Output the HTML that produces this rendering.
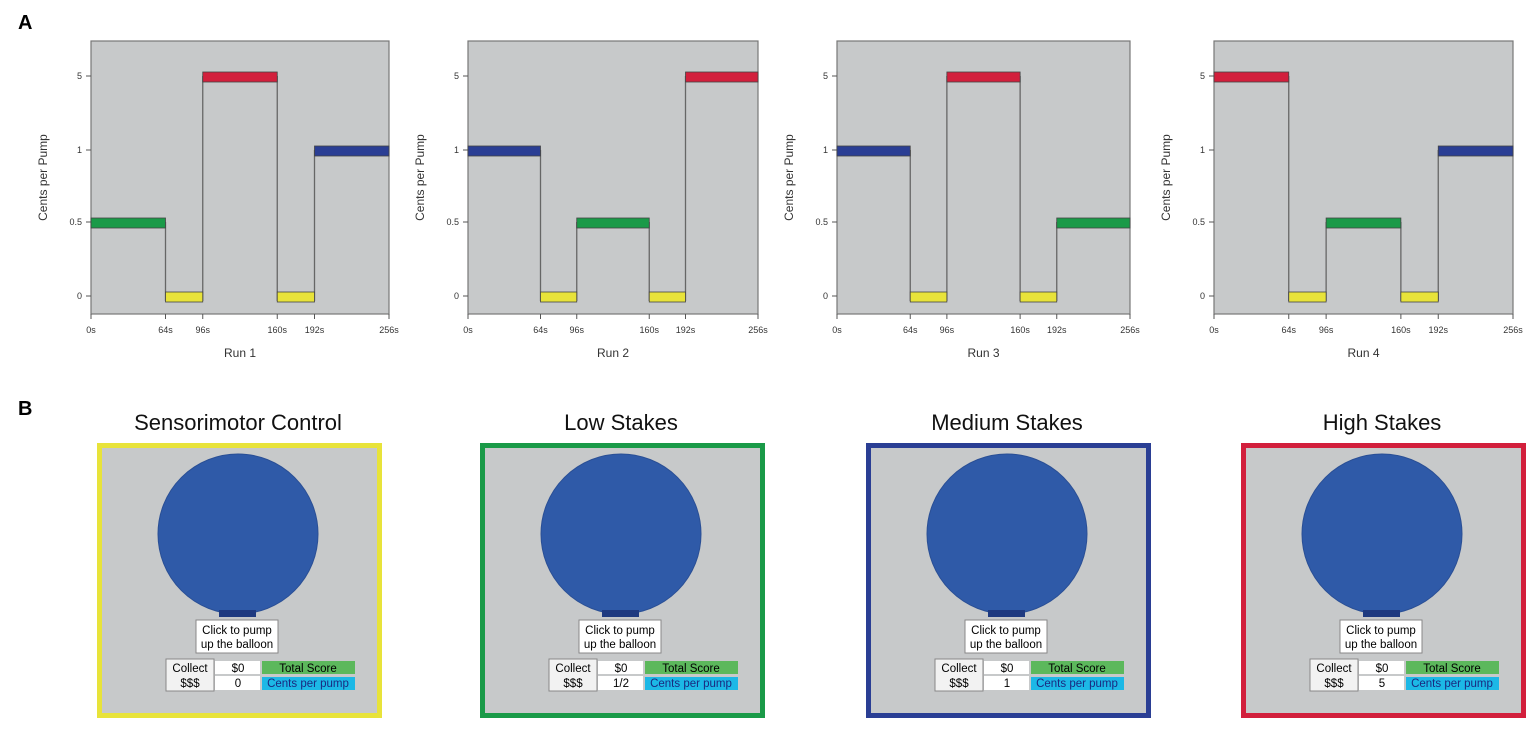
<!DOCTYPE html>
<html><head><meta charset="utf-8"><style>
body{margin:0;background:#fff;width:1535px;height:732px;overflow:hidden;font-family:"Liberation Sans",sans-serif}
svg text{font-family:"Liberation Sans",sans-serif}
</style></head><body>
<svg id="s" width="1535" height="732" viewBox="0 0 1535 732">
<text x="18" y="29" font-size="20" font-weight="bold">A</text>
<text x="18" y="415" font-size="20" font-weight="bold">B</text>
</svg>
<script>
const segStarts=[0,64,96,160,192];
const segEnds=[64,96,160,192,256];
const xTicks=[0,64,96,160,192,256];
const xTickLabels=["0s","64s","96s","160s","192s","256s"];
const yLevels=[0,0.5,1,5];
const yTickLabels=["0","0.5","1","5"];
const run1=[0.5,0,5,0,1];
const run2=[1,0,0.5,0,5];
const run3=[1,0,5,0,0.5];
const run4=[5,0,0.5,0,1];
const runs=[run1,run2,run3,run4];
const runNames=["Run 1","Run 2","Run 3","Run 4"];
const panelTitles=["Sensorimotor Control","Low Stakes","Medium Stakes","High Stakes"];
const panelCents=["0","1/2","1","5"];

const NS="http://www.w3.org/2000/svg";
const svg=document.getElementById('s');
function mk(tag,at,parent){const e=document.createElementNS(NS,tag);for(const k in at)e.setAttribute(k,at[k]);(parent||svg).appendChild(e);return e;}
const colorFor={0:"#e8e33a",0.5:"#1a9a48",1:"#2a3e94",5:"#d21f3c"};
const plots=[[91,298],[468,290],[837,293],[1214,299]];
const plotTop=41,plotBottom=314;
const yPix=[296,222,150,76];
function yScale(v){return yPix[yLevels.indexOf(v)];}

runs.forEach((run,ri)=>{
  const [px,pw]=plots[ri];
  const xs=t=>px+t/256*pw;
  const g=mk('g',{});
  
  
  const bg=mk('rect',{x:px,y:plotTop,width:pw,height:plotBottom-plotTop,fill:"#c7c9ca",stroke:"#777","stroke-width":1.2},g);
  
  
  yLevels.forEach((v,i)=>{
    const y=yScale(v);
    mk('line',{x1:px-5,x2:px,y1:y,y2:y,stroke:"#555"},g);
    const t=mk('text',{x:px-9,y:y+3,"font-size":9,"text-anchor":"end",fill:"#333"},g);
    t.textContent=yTickLabels[i];
    
    
  });
  xTicks.forEach((v,i)=>{
    const x=xs(v);
    mk('line',{x1:x,x2:x,y1:plotBottom,y2:plotBottom+5,stroke:"#555"},g);
    const t=mk('text',{x:x,y:plotBottom+19,"font-size":9,"text-anchor":"middle",fill:"#333"},g);
    t.textContent=xTickLabels[i];
    
    
  });
  for(let i=1;i<run.length;i++){
    const x=xs(segStarts[i]);
    const a=yScale(run[i-1]),b=yScale(run[i]);
    mk('line',{x1:x,x2:x,y1:Math.min(a,b),y2:Math.max(a,b)+5,stroke:"#666","stroke-width":1.3},g);
  }
  run.forEach((v,i)=>{
    const y=yScale(v);
    const r=mk('rect',{x:xs(segStarts[i]),y:y-4,width:xs(segEnds[i])-xs(segStarts[i]),height:10,fill:colorFor[v],stroke:"#444","stroke-width":0.8},g);
    
    
  });
  const yt=mk('text',{x:px-44,y:(plotTop+plotBottom)/2,"font-size":12,"text-anchor":"middle",fill:"#333",transform:`rotate(-90 ${px-44} ${(plotTop+plotBottom)/2})`},g);
  yt.textContent="Cents per Pump";
  
  
  const xt=mk('text',{x:px+pw/2,y:357,"font-size":12,"text-anchor":"middle",fill:"#333"},g);
  xt.textContent=runNames[ri];
  
  
});

const frameX=[97,480,866,1241];
const frameCols=["#e8e33a","#1a9a48","#2a3e94","#d21f3c"];
frameX.forEach((fx,i)=>{
  const g=mk('g',{});
  
  
  const cx=fx+141;
  const tt=mk('text',{x:cx,y:430,"font-size":22,"text-anchor":"middle",fill:"#111"},g);
  tt.textContent=panelTitles[i];
  
  
  const fr=mk('rect',{x:fx+2.5,y:445.5,width:280,height:270,fill:"#c7c9ca",stroke:frameCols[i],"stroke-width":5},g);
  
  
  const b=mk('circle',{cx:cx,cy:534,r:80,fill:"#2f5aa8",stroke:"#2a4f95"},g);
  
  
  mk('rect',{x:cx-19,y:610,width:37,height:7,fill:"#1f3a80"},g);
  const btn=mk('rect',{x:cx-42,y:620,width:82,height:33,fill:"#fff",stroke:"#888"},g);
  
  
  const l1=mk('text',{x:cx-1,y:634,"font-size":11.5,"text-anchor":"middle"},g);l1.textContent="Click to pump";
  const l2=mk('text',{x:cx-1,y:648,"font-size":11.5,"text-anchor":"middle"},g);l2.textContent="up the balloon";
  const cb=mk('rect',{x:cx-72,y:659,width:48,height:32,fill:"#f2f2f2",stroke:"#888"},g);
  
  
  let t=mk('text',{x:cx-48,y:672,"font-size":11.5,"text-anchor":"middle"},g);t.textContent="Collect";
  t=mk('text',{x:cx-48,y:687,"font-size":11.5,"text-anchor":"middle"},g);t.textContent="$$$";
  mk('rect',{x:cx-23,y:661,width:45,height:13,fill:"#fff"},g);
  mk('rect',{x:cx-23,y:676,width:45,height:14,fill:"#fff"},g);
  t=mk('text',{x:cx,y:672,"font-size":11.5,"text-anchor":"middle"},g);t.textContent="$0";
  
  t=mk('text',{x:cx,y:687,"font-size":11.5,"text-anchor":"middle"},g);t.textContent=panelCents[i];
  
  mk('rect',{x:cx+24,y:661,width:93,height:13,fill:"#5cb85c"},g);
  mk('rect',{x:cx+24,y:677,width:93,height:13,fill:"#1cb8e6"},g);
  t=mk('text',{x:cx+70,y:672,"font-size":11.5,"text-anchor":"middle"},g);t.textContent="Total Score";
  
  t=mk('text',{x:cx+70,y:687,"font-size":11.5,"text-anchor":"middle","fill":"#1a2a80"},g);t.textContent="Cents per pump";
  
});
</script>
</body></html>
